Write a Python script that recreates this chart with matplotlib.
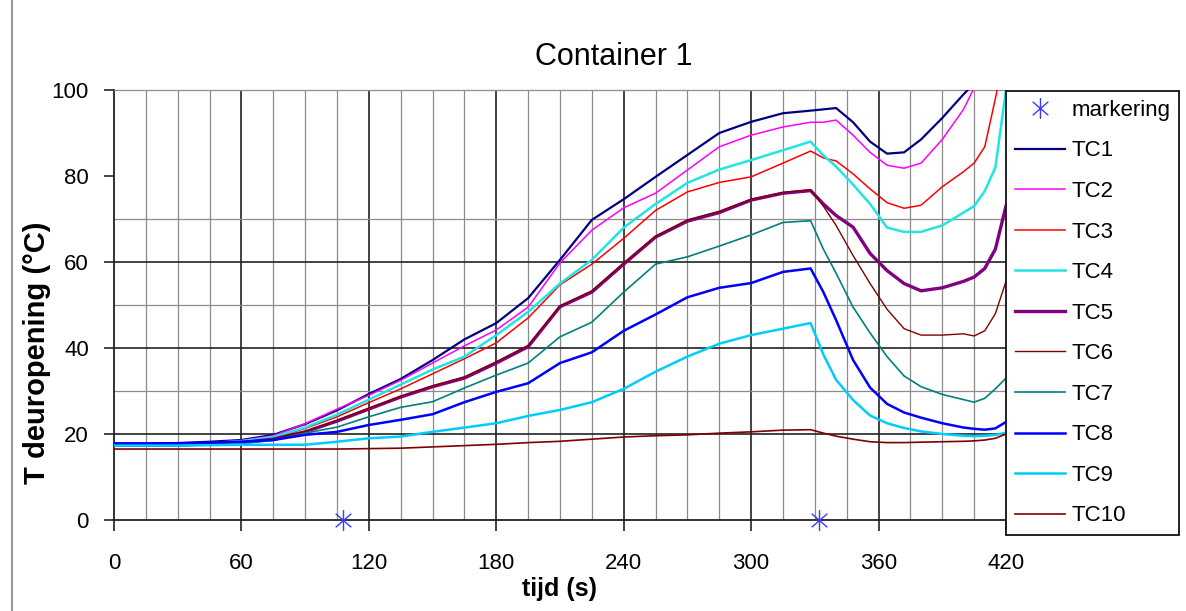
import numpy as np
import matplotlib
matplotlib.use("Agg")
import matplotlib.pyplot as plt
from matplotlib.path import Path
from matplotlib.lines import Line2D

plt.rcParams['font.family'] = ['Liberation Sans', 'DejaVu Sans']

# time axis (s), shared by all thermocouples
t = [0, 15, 30, 45, 60, 75, 90, 105, 120, 135, 150, 165, 180, 195, 210, 225,
     240, 255, 270, 285, 300, 315, 328, 334, 340, 348, 356, 364, 372, 380,
     390, 400, 405, 410, 415, 420]

tc1 = [17.8, 17.8, 17.9, 18.2, 18.6, 19.8, 22.3, 25.5, 29.3, 32.8, 37.2, 42.0,
       45.8, 51.6, 60.5, 69.8, 74.6, 79.8, 84.9, 90.0, 92.6, 94.6, 95.2, 95.5,
       95.8, 92.5, 88.0, 85.2, 85.5, 88.5, 93.5, 99.0, 101.5, 104.0, 107.0, 110.0]
tc2 = [17.5, 17.5, 17.6, 18.0, 18.5, 19.6, 22.4, 25.8, 29.0, 32.5, 36.5, 40.5,
       44.2, 49.5, 59.8, 67.4, 72.6, 76.0, 81.4, 86.8, 89.5, 91.4, 92.5, 92.5,
       93.0, 89.5, 85.5, 82.5, 81.8, 83.0, 88.5, 95.5, 100.5, 104.0, 108.0, 112.0]
tc3 = [17.2, 17.2, 17.3, 17.6, 18.0, 19.0, 21.3, 24.0, 27.3, 30.5, 34.0, 37.5,
       41.2, 47.0, 54.7, 59.5, 65.5, 72.0, 76.3, 78.5, 79.8, 83.0, 85.8, 84.2,
       83.5, 80.5, 77.0, 73.8, 72.5, 73.2, 77.5, 81.0, 83.0, 86.8, 98.0, 110.0]
tc4 = [17.5, 17.4, 17.5, 17.8, 18.3, 19.3, 21.5, 24.5, 28.0, 31.5, 35.0, 38.0,
       43.0, 48.4, 55.0, 60.5, 68.0, 73.5, 78.4, 81.5, 83.7, 86.0, 88.0, 84.8,
       82.2, 78.0, 73.5, 68.0, 67.0, 67.0, 68.5, 71.5, 73.0, 76.5, 82.0, 100.0]
tc5 = [17.5, 17.4, 17.4, 17.7, 18.0, 18.8, 20.5, 23.0, 25.8, 28.6, 31.0, 33.0,
       36.5, 40.3, 49.6, 53.0, 59.5, 65.8, 69.5, 71.5, 74.4, 76.0, 76.6, 73.5,
       70.8, 68.1, 62.0, 58.0, 55.0, 53.3, 54.0, 55.5, 56.5, 58.5, 63.0, 73.0]
tc6 = [17.4, 17.4, 17.4, 17.7, 18.0, 18.9, 20.6, 23.2, 26.0, 28.8, 31.2, 33.3,
       36.8, 40.6, 49.8, 53.3, 59.8, 66.0, 69.8, 71.8, 74.6, 76.2, 76.8, 73.0,
       68.5, 61.5, 55.0, 49.0, 44.5, 43.0, 43.0, 43.3, 42.8, 44.0, 48.0, 55.5]
tc7 = [17.3, 17.3, 17.3, 17.5, 17.8, 18.5, 20.2, 21.6, 24.0, 26.2, 27.5, 30.7,
       33.7, 36.5, 42.6, 46.0, 53.0, 59.5, 61.2, 63.7, 66.3, 69.2, 69.6, 63.0,
       57.4, 49.5, 43.5, 38.0, 33.5, 31.0, 29.2, 28.0, 27.4, 28.3, 30.5, 33.0]
tc8 = [17.8, 17.8, 17.8, 18.0, 18.2, 18.6, 19.8, 20.5, 22.1, 23.3, 24.6, 27.4,
       29.8, 31.8, 36.5, 39.0, 44.0, 47.8, 51.8, 54.0, 55.1, 57.7, 58.5, 53.0,
       46.5, 37.2, 30.8, 27.0, 25.0, 23.8, 22.5, 21.5, 21.2, 21.0, 21.3, 22.8]
tc9 = [17.3, 17.3, 17.3, 17.4, 17.5, 17.5, 17.5, 18.2, 19.0, 19.4, 20.5, 21.5,
       22.5, 24.2, 25.6, 27.4, 30.5, 34.5, 38.0, 41.0, 43.0, 44.5, 45.8, 38.5,
       32.6, 27.9, 24.3, 22.5, 21.4, 20.6, 20.0, 19.6, 19.5, 19.6, 19.8, 20.3]
tc10 = [16.5, 16.5, 16.5, 16.5, 16.5, 16.5, 16.5, 16.5, 16.6, 16.7, 17.0, 17.3,
        17.6, 18.0, 18.3, 18.8, 19.3, 19.6, 19.8, 20.2, 20.5, 20.9, 21.0, 20.2,
        19.5, 18.8, 18.2, 18.0, 18.0, 18.1, 18.2, 18.3, 18.4, 18.6, 19.0, 20.0]

series = [tc1, tc2, tc3, tc4, tc5, tc6, tc7, tc8, tc9, tc10]
labels = ['TC1', 'TC2', 'TC3', 'TC4', 'TC5', 'TC6', 'TC7', 'TC8', 'TC9', 'TC10']
colors = ['#000080', '#ff00ff', '#ff0000', '#22e4e4', '#800080',
          '#800000', '#008080', '#0000ff', '#00ccff', '#800000']
widths = [1.6, 1.1, 1.1, 1.8, 2.4, 1.0, 1.2, 1.8, 1.8, 1.2]

# markers on the time axis
mark_t = [108, 332]
mark_y = [0, 0]

# asterisk marker: vertical bar plus a steep X
star = Path([(0, -1), (0, 1), (-0.75, -0.65), (0.75, 0.65), (-0.75, 0.65), (0.75, -0.65)],
            [Path.MOVETO, Path.LINETO] * 3)

fig = plt.figure(figsize=(11.86, 6.11), dpi=100)
ax = fig.add_axes([114 / 1186, 1 - 520 / 611, 892 / 1186, 430 / 611])

# grid drawn by hand: light every 15 s, dark every 60 s
for x in range(15, 420, 15):
    dark = x % 60 == 0
    ax.axvline(x, color='#222222' if dark else '#8c8c8c',
               lw=1.2 if dark else 0.9, zorder=1)
for y in [20, 40, 60]:
    ax.axhline(y, color='#222222', lw=1.2, zorder=1)
for y in [30, 50, 70]:
    ax.axhline(y, color='#8c8c8c', lw=0.9, zorder=1)

ax.plot(mark_t, mark_y, linestyle='none', marker=star, markersize=15,
        markeredgewidth=1.0, color='#3a3aff', label='markering',
        zorder=5, clip_on=False)
for vals, lab, c, w in zip(series, labels, colors, widths):
    ax.plot(t, vals, color=c, lw=w, label=lab, zorder=3)

ax.set_xlim(0, 420)
ax.set_ylim(0, 100)
ax.set_xticks(range(0, 421, 60))
ax.set_yticks(range(0, 101, 20))
ax.tick_params(axis='x', direction='out', length=8, width=1.2, pad=16,
               labelsize=16, color='#222222')
ax.tick_params(axis='y', direction='out', length=7, width=1.2, pad=11,
               labelsize=16, color='#222222')

for side in ['left', 'bottom']:
    ax.spines[side].set_color('#222222')
    ax.spines[side].set_linewidth(1.3)
ax.spines['top'].set_color('#8c8c8c')
ax.spines['top'].set_linewidth(0.9)
ax.spines['right'].set_visible(False)

ax.set_xlabel('tijd (s)', fontsize=18, fontweight='bold', labelpad=2)
ax.set_ylabel('T deuropening (°C)', fontsize=21, fontweight='bold')
ax.yaxis.set_label_coords(-0.0705, 0.39)

fig.text(614 / 1186, 1 - 57 / 611, 'Container 1', fontsize=22,
         ha='center', va='center')

leg = ax.legend(loc='upper left', bbox_to_anchor=(1006 / 1186, 1 - 91 / 611),
                bbox_transform=fig.transFigure, borderaxespad=0,
                fontsize=16, handlelength=2.25, handletextpad=0.28,
                borderpad=0.4, labelspacing=0.88, fancybox=False,
                edgecolor='#111111', framealpha=1)
leg.get_frame().set_linewidth(1.3)

# grey border of the chart area on the far left
fig.add_artist(Line2D([12 / 1186, 12 / 1186], [0, 1], color='#9a9a9a', lw=1.5))

fig.savefig('out.png', dpi=100)
